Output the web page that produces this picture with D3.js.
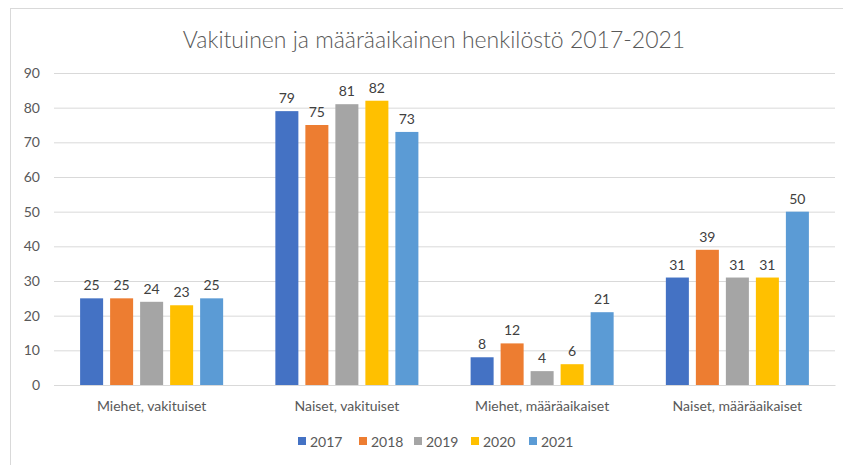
<!DOCTYPE html>
<html><head><meta charset="utf-8">
<script src="https://cdn.jsdelivr.net/npm/d3@7"></script>
<style>body{margin:0;background:#fff}svg{display:block}text{font-family:Lato,"Open Sans",sans-serif}</style>
</head><body><svg id="c" width="843" height="465"></svg>
<script>
const title = "Vakituinen ja määräaikainen henkilöstö 2017-2021";
const categories = ["Miehet, vakituiset","Naiset, vakituiset","Miehet, määräaikaiset","Naiset, määräaikaiset"];
const years = ["2017","2018","2019","2020","2021"];
const colors = ["#4472C4","#ED7D31","#A5A5A5","#FFC000","#5B9BD5"];
const v2017 = [25,79,8,31];
const v2018 = [25,75,12,39];
const v2019 = [24,81,4,31];
const v2020 = [23,82,6,31];
const v2021 = [25,73,21,50];
const series = [v2017,v2018,v2019,v2020,v2021];
const yTicks = [0,10,20,30,40,50,60,70,80,90];

const svg = d3.select("#c");
svg.append("rect").attr("x",10.5).attr("y",8.5).attr("width",850).attr("height",470)
  .attr("fill","#fff").attr("stroke","#d9d9d9");

const L=54,R=835,T=73,B=385;
const x0 = d3.scaleBand().domain(categories).range([L,R]).paddingInner(0).paddingOuter(0);
const x1 = d3.scaleBand().domain(years).range([0,x0.bandwidth()]).paddingInner(0.233).paddingOuter(0.87);
const y = d3.scaleLinear().domain([0,90]).range([B,T]);

const ax = svg.append("g").attr("transform",`translate(${L},0)`)
  .call(d3.axisLeft(y).tickValues(yTicks).tickSize(-(R-L)).tickPadding(14));
ax.select(".domain").remove();
ax.selectAll(".tick line").attr("stroke","#d9d9d9");
ax.selectAll(".tick text").attr("fill","#595959").style("font-size","14px");

const g = svg.append("g");
series.forEach((s,si)=>{
  g.selectAll(null).data(s).enter().append("rect")
    .attr("x",(d,i)=>x0(categories[i])+x1(years[si]))
    .attr("y",d=>y(d)).attr("width",x1.bandwidth()).attr("height",d=>B-y(d))
    .attr("fill",colors[si]);
  g.selectAll(null).data(s).enter().append("text")
    .attr("x",(d,i)=>x0(categories[i])+x1(years[si])+x1.bandwidth()/2)
    .attr("y",d=>y(d)-8).attr("text-anchor","middle")
    .attr("fill","#404040").style("font-size","14px").text(d=>d);
});

const xa = svg.append("g").attr("transform",`translate(0,${B})`)
  .call(d3.axisBottom(x0).tickSize(0).tickPadding(16));
xa.select(".domain").attr("stroke","#d9d9d9");
xa.selectAll(".tick text").attr("fill","#595959").style("font-size","14px");

svg.append("text").attr("x",434).attr("y",48).attr("text-anchor","middle")
  .attr("fill","#595959").style("font-size","23px").style("font-weight","300").text(title);

const legX = [298,359,414,471,529];
const lg = svg.append("g");
years.forEach((yr,i)=>{
  lg.append("rect").attr("x",legX[i]).attr("y",437).attr("width",8).attr("height",8).attr("fill",colors[i]);
  lg.append("text").attr("x",legX[i]+12).attr("y",447).attr("fill","#595959").style("font-size","14px").text(yr);
});
</script></body></html>
